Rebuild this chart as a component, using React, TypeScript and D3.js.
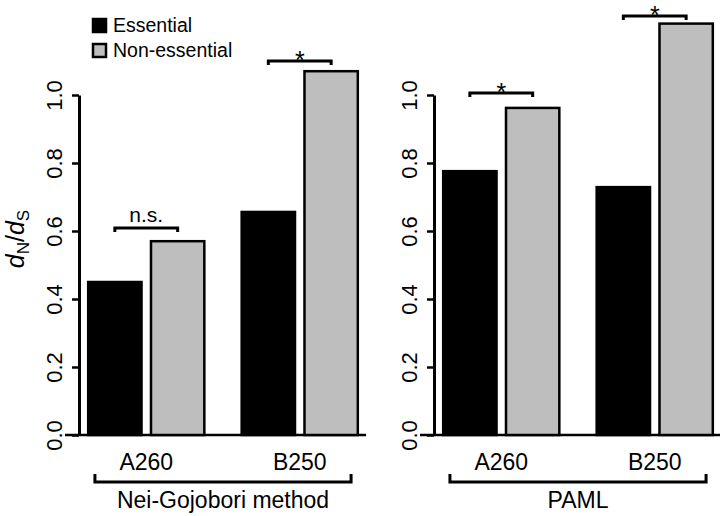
import React, { useEffect, useRef } from "react";
import * as d3 from "d3";

// data
const groups = ["A260", "B250"];
const seriesNames = ["Essential", "Non-essential"];
const seriesColors = ["#000000", "#bebebe"];
const methods = ["Nei-Gojobori method", "PAML"];
const essentialValues = [[0.45, 0.656], [0.776, 0.729]];
const nonEssentialValues = [[0.57, 1.07], [0.962, 1.21]];
const sigLabels = [["n.s.", "*"], ["*", "*"]];
const sigHeights = [[0.609, 1.1], [1.006, 1.232]];
const yTicks = [0, 0.2, 0.4, 0.6, 0.8, 1.0];

const W = 720, H = 516;
const FONT = "'Liberation Sans', Arial, Helvetica, sans-serif";

export default function App() {
  const ref = useRef<SVGSVGElement>(null);

  useEffect(() => {
    const svg = d3.select(ref.current);
    svg.selectAll("*").remove();

    const y = d3.scaleLinear().domain([0, 1]).range([435, 95]);
    const panelOffsets = [0, 355];

    methods.forEach((method, p) => {
      const off = panelOffsets[p];
      const g = svg.append("g").attr("transform", `translate(${off},0)`);

      const x0 = d3.scaleBand().domain(groups).range([69.5, 376.5])
        .paddingInner(0.227).paddingOuter(0.1136);
      const x1 = d3.scaleBand().domain(seriesNames).range([0, x0.bandwidth()])
        .paddingInner(0.111);

      const rows = groups.map((grp, i) => ({
        grp,
        vals: [essentialValues[p][i], nonEssentialValues[p][i]],
      }));

      const axisX = 79;
      const first = x0(groups[0])!;
      const last = x0(groups[groups.length - 1])! + x0.bandwidth();

      // baseline
      g.append("line")
        .attr("x1", axisX - 14).attr("x2", last + 7)
        .attr("y1", y(0)).attr("y2", y(0))
        .attr("stroke", "#000").attr("stroke-width", 2.5);

      // bars
      rows.forEach((r) => {
        r.vals.forEach((v, s) => {
          const bx = x0(r.grp)! + x1(seriesNames[s])!;
          g.append("rect")
            .attr("x", bx + 1.25)
            .attr("width", x1.bandwidth() - 2.5)
            .attr("y", y(v))
            .attr("height", y(0) - y(v))
            .attr("fill", seriesColors[s])
            .attr("stroke", "#000")
            .attr("stroke-width", 2.5);
        });
      });

      // y axis
      const yAxis = d3.axisLeft(y).tickValues(yTicks).tickSize(7).tickSizeOuter(0)
        .tickFormat(d3.format(".1f"));
      const ax = g.append("g").attr("transform", `translate(${axisX},0)`).call(yAxis);
      ax.select(".domain").attr("stroke-width", 3);
      ax.selectAll(".tick line").attr("stroke-width", 2.5);
      ax.selectAll(".tick text")
        .attr("font-family", FONT).attr("font-size", 22).attr("fill", "#000")
        .attr("x", null).attr("dy", null)
        .attr("text-anchor", "middle").attr("dominant-baseline", "central")
        .attr("transform", "translate(-25,0) rotate(-90)");

      // significance brackets
      rows.forEach((r, i) => {
        const cx0 = x0(r.grp)! + x1(seriesNames[0])! + x1.bandwidth() / 2;
        const cx1 = x0(r.grp)! + x1(seriesNames[1])! + x1.bandwidth() / 2;
        const by = y(sigHeights[p][i]);
        g.append("path")
          .attr("d", `M${cx0},${by + 4}V${by}H${cx1}V${by + 4}`)
          .attr("fill", "none").attr("stroke", "#000").attr("stroke-width", 3);
        const lab = sigLabels[p][i];
        g.append("text")
          .attr("x", (cx0 + cx1) / 2)
          .attr("y", lab === "*" ? by + 8 : by - 6)
          .attr("text-anchor", "middle")
          .attr("font-family", FONT).attr("font-size", lab === "*" ? 25 : 21)
          .text(lab);

        // category label
        g.append("text")
          .attr("x", x0(r.grp)! + x0.bandwidth() / 2)
          .attr("y", 470)
          .attr("text-anchor", "middle")
          .attr("font-family", FONT).attr("font-size", 23)
          .text(r.grp);
      });

      // method bracket
      const bl = first + 8, br = last - 8;
      g.append("path")
        .attr("d", `M${bl},474V482H${br}V474`)
        .attr("fill", "none").attr("stroke", "#000").attr("stroke-width", 3);
      g.append("text")
        .attr("x", (first + last) / 2)
        .attr("y", 508)
        .attr("text-anchor", "middle")
        .attr("font-family", FONT).attr("font-size", 23)
        .text(method);
    });

    // y label dN/dS
    const yl = svg.append("text")
      .attr("transform", "translate(24,239) rotate(-90)")
      .attr("text-anchor", "middle")
      .attr("font-family", FONT).attr("font-size", 25);
    yl.append("tspan").attr("font-style", "italic").text("d");
    yl.append("tspan").attr("font-size", 17).attr("baseline-shift", "-30%").text("N");
    yl.append("tspan").text("/");
    yl.append("tspan").attr("font-style", "italic").text("d");
    yl.append("tspan").attr("font-size", 17).attr("baseline-shift", "-30%").text("S");

    // legend
    const leg = svg.append("g");
    seriesNames.forEach((s, i) => {
      leg.append("rect")
        .attr("x", 93).attr("y", 19 + i * 25)
        .attr("width", 13).attr("height", 13)
        .attr("fill", seriesColors[i]).attr("stroke", "#000").attr("stroke-width", 2.5);
      leg.append("text")
        .attr("x", 113).attr("y", 32 + i * 25)
        .attr("font-family", FONT).attr("font-size", 19.5)
        .text(s);
    });
  }, []);

  return (
    <svg ref={ref} width={W} height={H}
      style={{ position: "absolute", left: 0, top: 0, background: "#fff" }} />
  );
}
